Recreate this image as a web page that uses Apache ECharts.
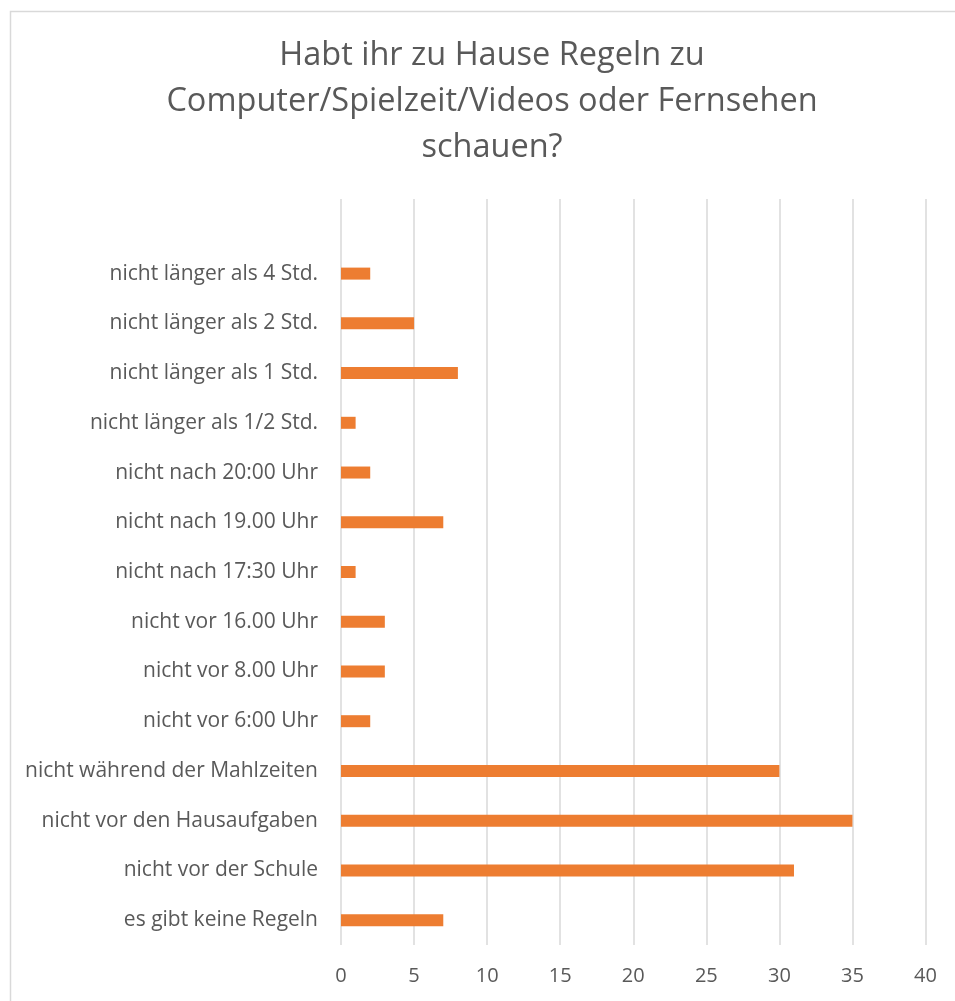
<!DOCTYPE html>
<html>
<head>
<meta charset="utf-8">
<script src="https://cdn.jsdelivr.net/npm/echarts@6/dist/echarts.min.js"></script>
<style>
  html, body { margin: 0; padding: 0; background: #fff; }
  #chart { width: 955px; height: 1001px; }
</style>
</head>
<body>
<div id="chart"></div>
<script>
  // von unten nach oben, wie im Original
  var categories = [
    'es gibt keine Regeln',
    'nicht vor der Schule',
    'nicht vor den Hausaufgaben',
    'nicht während der Mahlzeiten',
    'nicht vor 6:00 Uhr',
    'nicht vor 8.00 Uhr',
    'nicht vor 16.00 Uhr',
    'nicht nach 17:30 Uhr',
    'nicht nach 19.00 Uhr',
    'nicht nach 20:00 Uhr',
    'nicht länger als 1/2 Std.',
    'nicht länger als 1 Std.',
    'nicht länger als 2 Std.',
    'nicht länger als 4 Std.'
  ];
  var values = [7, 31, 35, 30, 2, 3, 3, 1, 7, 2, 1, 8, 5, 2];
  var xTicks = { min: 0, max: 40, step: 5 };

  var textColor = '#595959';
  var font = '"Open Sans", Lato, sans-serif';

  var myChart = echarts.init(document.getElementById('chart'));
  myChart.setOption({
    animation: false,
    backgroundColor: '#fff',
    graphic: [{
      type: 'rect',
      left: 8, top: 9,
      shape: { width: 960, height: 1000 },
      style: { fill: 'none', stroke: '#d9d9d9', lineWidth: 1.5 },
      silent: true
    }],
    title: {
      text: 'Habt ihr zu Hause Regeln zu\nComputer/Spielzeit/Videos oder Fernsehen\nschauen?',
      left: 487, top: 28, textAlign: 'center',
      textStyle: { color: textColor, fontSize: 32.5, fontWeight: 'normal', fontFamily: font, lineHeight: 46 }
    },
    grid: { left: 341, right: 29.5, top: 199, bottom: 56 },
    xAxis: {
      type: 'value',
      min: xTicks.min, max: xTicks.max, interval: xTicks.step,
      axisLine: { show: false },
      axisTick: { show: false },
      axisLabel: { color: textColor, fontSize: 20, fontFamily: font, margin: 21 },
      splitLine: { lineStyle: { color: '#d9d9d9', width: 1.5 } }
    },
    yAxis: {
      type: 'category',
      data: categories,
      max: categories.length,
      axisLine: { show: false },
      axisTick: { show: false },
      axisLabel: { color: textColor, fontSize: 21, fontFamily: font, margin: 23,
        formatter: function (v) { return v == null ? '' : v; } },
      splitLine: { show: false }
    },
    series: [{
      type: 'bar',
      data: values,
      barWidth: 12,
      itemStyle: { color: '#ED7D31' }
    }]
  });
</script>
</body>
</html>
